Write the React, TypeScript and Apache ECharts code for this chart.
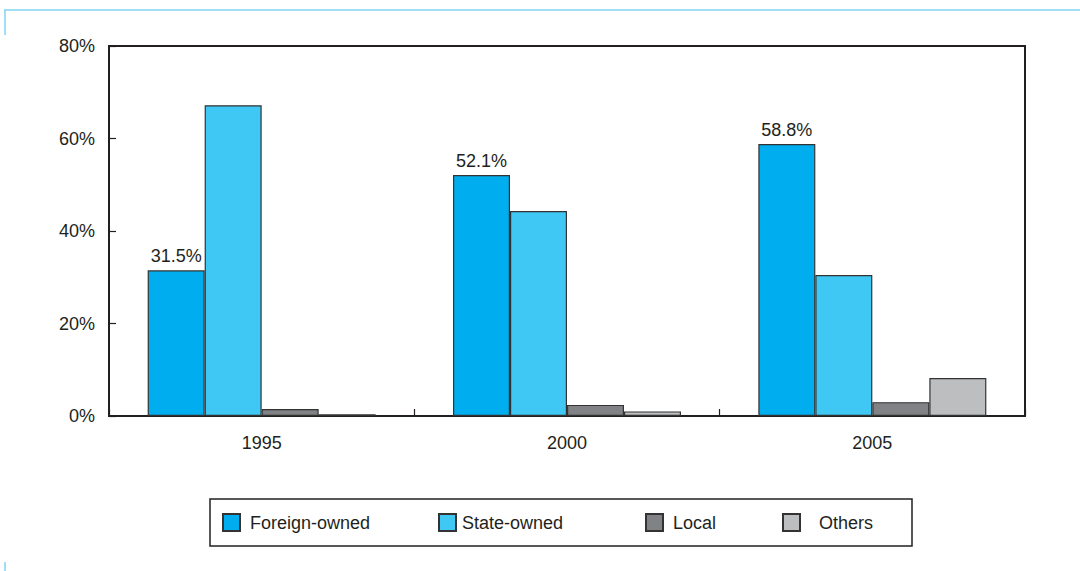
import React, { useEffect, useRef } from "react";
import * as echarts from "echarts";

const years = ["1995", "2000", "2005"];
const foreignOwned = [31.5, 52.1, 58.8];
const stateOwned = [67.2, 44.3, 30.5];
const local = [1.5, 2.4, 3.0];
const others = [0.4, 1.0, 8.2];
const yTicks = [0, 20, 40, 60, 80];

const seriesNames = ["Foreign-owned", "State-owned", "Local", "Others"];
const seriesColors = ["#00aeef", "#40c8f4", "#808285", "#bcbec0"];
const seriesData = [foreignOwned, stateOwned, local, others];
const legendLefts = [222, 438, 645, 782];
const legendGaps = [5, 1, 5, 14];

const FONT = "'Liberation Sans', Arial, sans-serif";
const FONT_SIZE = 18;
const INK = "#231f20";

export default function App() {
  const ref = useRef<HTMLDivElement>(null);

  useEffect(() => {
    if (!ref.current) return;
    const chart = echarts.init(ref.current, null, { renderer: "svg" });

    const series = seriesNames.map((name, i) => ({
      name,
      type: "bar",
      data: seriesData[i],
      barWidth: 57,
      barGap: "0%",
      itemStyle: { color: seriesColors[i], borderColor: "#333333", borderWidth: 1.2 },
      label:
        i === 0
          ? {
              show: true,
              position: "top",
              distance: 5,
              formatter: (p: any) => `${p.value}%`,
              fontFamily: FONT,
              fontSize: FONT_SIZE,
              color: INK,
            }
          : { show: false },
    }));

    const legends = seriesNames.map((name, i) => ({
      data: [name],
      left: legendLefts[i],
      top: 513,
      orient: "horizontal",
      itemWidth: 17,
      itemHeight: 17,
      itemGap: 0,
      padding: 0,
      selectedMode: false,
      icon: "rect",
      textStyle: {
        fontFamily: FONT,
        fontSize: FONT_SIZE,
        color: INK,
        padding: [0, 0, 0, legendGaps[i]],
      },
    }));

    chart.setOption({
      animation: false,
      grid: {
        left: 109,
        right: 55,
        top: 46,
        bottom: 155,
        show: true,
        borderColor: INK,
        borderWidth: 2,
        backgroundColor: "transparent",
      },
      legend: legends,
      xAxis: {
        type: "category",
        data: years,
        axisLine: { show: true, lineStyle: { color: INK, width: 2 } },
        axisTick: { show: true, inside: true, length: 7, lineStyle: { color: INK, width: 1.2 } },
        axisLabel: { margin: 18, fontFamily: FONT, fontSize: FONT_SIZE, color: INK },
      },
      yAxis: {
        type: "value",
        min: yTicks[0],
        max: yTicks[yTicks.length - 1],
        interval: 20,
        splitLine: { show: false },
        axisLine: { show: true, lineStyle: { color: INK, width: 2 } },
        axisTick: { show: true, inside: true, length: 7, lineStyle: { color: INK, width: 1.2 } },
        axisLabel: {
          margin: 14,
          fontFamily: FONT,
          fontSize: FONT_SIZE,
          color: INK,
          formatter: (v: number) => `${v}%`,
        },
      },
      graphic: [
        {
          type: "rect",
          shape: { x: 210, y: 499, width: 702, height: 47 },
          style: { fill: "none", stroke: INK, lineWidth: 1.5 },
          silent: true,
        },
        {
          type: "line",
          shape: { x1: 4, y1: 10, x2: 1080, y2: 10 },
          style: { stroke: "#7fd6f4", lineWidth: 1.5 },
          silent: true,
        },
        {
          type: "line",
          shape: { x1: 5, y1: 10, x2: 5, y2: 35 },
          style: { stroke: "#7fd6f4", lineWidth: 1.5 },
          silent: true,
        },
        {
          type: "line",
          shape: { x1: 5, y1: 562, x2: 5, y2: 571 },
          style: { stroke: "#7fd6f4", lineWidth: 1.5 },
          silent: true,
        },
      ],
      series,
    });

    return () => chart.dispose();
  }, []);

  return (
    <div
      ref={ref}
      style={{ position: "fixed", left: 0, top: 0, width: 1080, height: 571, background: "#ffffff" }}
    />
  );
}
